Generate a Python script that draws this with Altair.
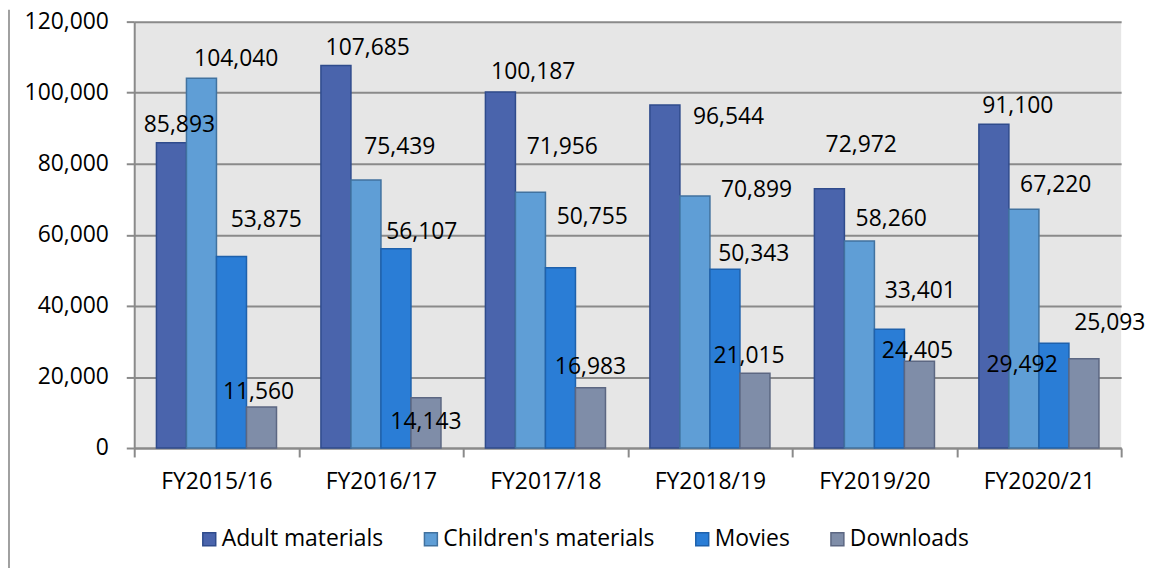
import altair as alt
import pandas as pd

YEARS = ["FY2015/16", "FY2016/17", "FY2017/18", "FY2018/19", "FY2019/20", "FY2020/21"]
SERIES = ["Adult materials", "Children's materials", "Movies", "Downloads"]
ADULT = [85893, 107685, 100187, 96544, 72972, 91100]
CHILDREN = [104040, 75439, 71956, 70899, 58260, 67220]
MOVIES = [53875, 56107, 50755, 50343, 33401, 29492]
DOWNLOADS = [11560, 14143, 16983, 21015, 24405, 25093]
Y_TICKS = [0, 20000, 40000, 60000, 80000, 100000, 120000]

# styles
FILL = ["#4A64AC", "#5F9ED6", "#2A7DD6", "#7F8DA8"]
STROKE = ["#2F4B8C", "#41729F", "#1E61AC", "#5C6782"]
# label nudges (dx, dy in px) relative to each bar's top centre, per year, per series
LABEL_NUDGE = [
    [(8, -19), (35, -20), (35, -38), (-3, -16)],
    [(32, -18), (34, -34), (26, -18), (0, 23)],
    [(33, -21), (32, -47), (32, -52), (0, -22)],
    [(64, 11), (62, -7), (29, -16), (-6, -18)],
    [(32, -45), (32, -23), (31, -40), (-2, -11)],
    [(24, -19), (32, -25), (-32, 21), (26, -37)],
]

FONT = "Open Sans"
FS = 23
GRID = "#8A8A8A"

rows = []
for i, yr in enumerate(YEARS):
    for s, vals in zip(SERIES, [ADULT, CHILDREN, MOVIES, DOWNLOADS]):
        rows.append({"year": yr, "series": s, "value": vals[i]})
df = pd.DataFrame(rows)

x_enc = alt.X(
    "year:N",
    sort=YEARS,
    scale=alt.Scale(paddingInner=0, paddingOuter=0),
    axis=alt.Axis(
        title=None,
        labelFont=FONT,
        labelFontSize=FS,
        labelColor="black",
        labelPadding=14,
        tickBand="extent",
        tickSize=9,
        tickWidth=2,
        tickColor=GRID,
        domainColor=GRID,
        domainWidth=2,
        grid=False,
        labelAngle=0,
    ),
)
xo_enc = alt.XOffset("series:N", sort=SERIES, scale=alt.Scale(paddingInner=0, paddingOuter=0.74))
y_enc = alt.Y(
    "value:Q",
    scale=alt.Scale(domain=[0, 120000], nice=False),
    axis=alt.Axis(
        title=None,
        values=Y_TICKS,
        format=",.0f",
        labelFont=FONT,
        labelFontSize=FS,
        labelColor="black",
        labelPadding=18,
        tickSize=8,
        tickWidth=2,
        tickColor=GRID,
        domainColor=GRID,
        domainWidth=2,
        grid=True,
        gridColor=GRID,
        gridWidth=2,
    ),
)

legend = alt.Legend(
    title=None,
    orient="none",
    direction="horizontal",
    legendX=64,
    legendY=509,
    symbolType="square",
    symbolSize=169,
    symbolStrokeWidth=1.5,
    labelFont=FONT,
    labelFontSize=FS,
    labelColor="black",
    labelOffset=1,
    labelLimit=0,
    columnPadding=36,
    padding=0,
)

bars = (
    alt.Chart(df)
    .mark_bar(strokeWidth=1.5)
    .encode(
        x=x_enc,
        xOffset=xo_enc,
        y=y_enc,
        color=alt.Color("series:N", sort=SERIES, scale=alt.Scale(domain=SERIES, range=FILL), legend=legend),
        stroke=alt.Stroke("series:N", sort=SERIES, scale=alt.Scale(domain=SERIES, range=STROKE), legend=legend),
    )
)

layers = [bars]
for i, yr in enumerate(YEARS):
    for j, s in enumerate(SERIES):
        dx, dy = LABEL_NUDGE[i][j]
        layers.append(
            alt.Chart(df)
            .transform_filter((alt.datum.year == yr) & (alt.datum.series == s))
            .mark_text(dx=dx, dy=dy + 1, font=FONT, fontSize=FS, color="black", align="center", baseline="middle")
            .encode(x=x_enc, xOffset=xo_enc, y=y_enc, text=alt.Text("value:Q", format=","))
        )

frame = (
    alt.Chart(pd.DataFrame({"k": [0]}))
    .mark_rule(color="#A0A0A0", strokeWidth=2)
    .encode(x=alt.value(-126), y=alt.value(-12), y2=alt.value(560))
)
layers.append(frame)

chart = (
    alt.layer(*layers)
    .properties(
        width=993,
        height=429,
        autosize=alt.AutoSizeParams(type="none"),
        padding={"left": 127, "top": 12, "right": 26, "bottom": 119},
        background="white",
    )
    .configure_view(fill="#E6E6E6", stroke=None)
)

chart.save("out.html", embed_options={"renderer": "svg", "actions": False})
